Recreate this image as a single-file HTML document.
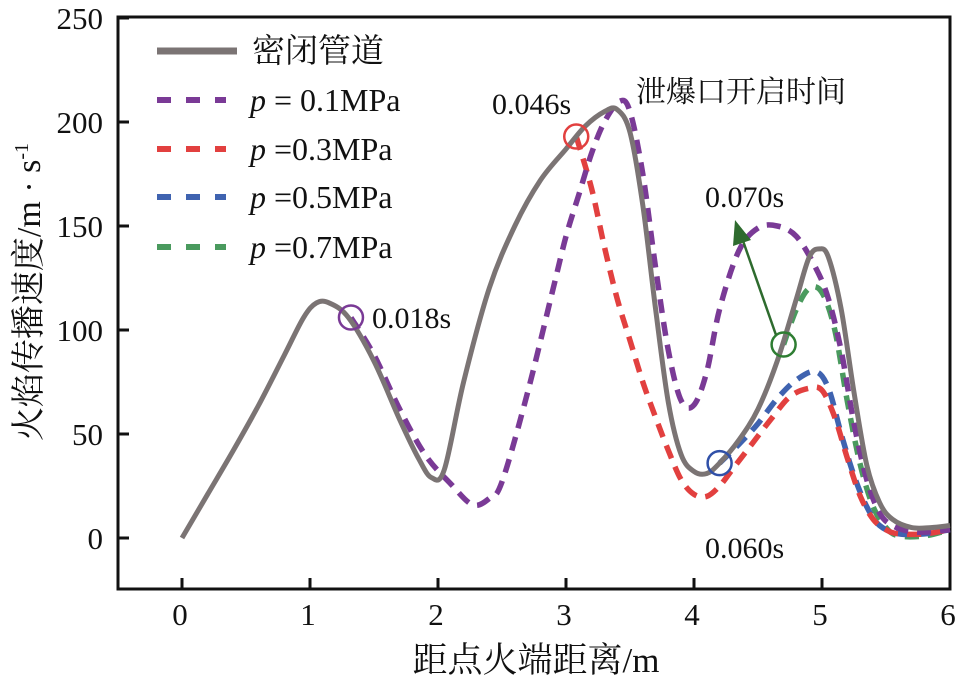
<!DOCTYPE html>
<html><head><meta charset="utf-8">
<style>
html,body{margin:0;padding:0;background:#fff;}
svg{display:block;font-family:"Liberation Serif","Noto Serif CJK SC",serif;}
</style></head>
<body>
<svg id="chart" width="963" height="686" viewBox="0 0 963 686" xmlns="http://www.w3.org/2000/svg">
<rect x="118" y="17" width="832" height="572" fill="none" stroke="#111" stroke-width="3"/>
<g id="axes"></g>
<g id="series"></g>
<g id="annot"></g>
<g id="legend"></g>
</svg>
<script>
const xTicks=[0,1,2,3,4,5,6];
const yTicks=[0,50,100,150,200,250];
const closedX=[0,0.2,0.4,0.6,0.8,0.95,1.05,1.15,1.3,1.5,1.7,1.85,1.95,2.05,2.2,2.4,2.6,2.8,3.0,3.15,3.3,3.4,3.5,3.6,3.7,3.8,3.9,4.0,4.1,4.2,4.35,4.5,4.65,4.8,4.9,4.98,5.05,5.15,5.25,5.35,5.45,5.55,5.7,5.85,6.0];
const closedY=[0,21,42,64,88,106,113,113,106,85,57,38,29,33,75,120,150,172,187,198,205,206,195,160,110,65,40,32,31,36,47,62,85,115,135,139,135,110,70,35,17,9,5,5,6];
const p1X=[1.32,1.5,1.7,1.9,2.1,2.27,2.4,2.5,2.7,2.9,3.0,3.1,3.2,3.3,3.42,3.5,3.6,3.7,3.8,3.9,4.0,4.1,4.2,4.35,4.5,4.65,4.8,4.95,5.05,5.15,5.25,5.35,5.45,5.55,5.7,5.85,6.0];
const p1Y=[106,88,62,40,26,16,19,27,70,120,145,165,185,200,210,205,175,130,90,66,64,80,110,138,149,150,145,130,115,90,55,28,12,6,3,3,4];
const p3X=[3.08,3.2,3.3,3.4,3.5,3.6,3.7,3.8,3.9,4.0,4.1,4.2,4.3,4.45,4.6,4.75,4.9,5.0,5.1,5.2,5.3,5.4,5.5,5.6,5.8,6.0];
const p3Y=[193,168,140,115,95,75,58,42,28,21,20,25,33,45,57,68,72,71,58,38,20,9,4,2,2,4];
const p5X=[4.2,4.35,4.5,4.65,4.8,4.95,5.05,5.15,5.25,5.35,5.45,5.6,5.8,6.0];
const p5Y=[36,45,55,67,76,80,72,50,30,15,6,2,2,4];
const p7X=[4.7,4.8,4.9,5.0,5.1,5.2,5.3,5.4,5.5,5.6,5.8,6.0];
const p7Y=[93,110,120,118,100,65,35,15,5,1,1,4];

const X0=182,XS=128,Y0=538,YS=104/50;
const sx=v=>X0+v*XS, sy=v=>Y0-v*YS;
const NS="http://www.w3.org/2000/svg";
function mk(tag,attrs,parent,text){const e=document.createElementNS(NS,tag);for(const k in attrs)e.setAttribute(k,attrs[k]);if(text!==undefined)e.textContent=text;parent.appendChild(e);return e;}
const axes=document.getElementById('axes');
xTicks.forEach(t=>{
  const l=mk('line',{x1:sx(t),x2:sx(t),y1:589,y2:578,stroke:'#111','stroke-width':3},axes);
  
  
  const tx=mk('text',{x:sx(t)-2,y:625,'font-size':31,'text-anchor':'middle',fill:'#111'},axes,String(t));
  
  
});
yTicks.forEach(t=>{
  const l=mk('line',{x1:118,x2:129,y1:sy(t),y2:sy(t),stroke:'#111','stroke-width':3},axes);
  
  
  const tx=mk('text',{x:103,y:sy(t)+11,'font-size':31,'text-anchor':'end',fill:'#111'},axes,String(t));
  
  
});
const xt=mk('text',{x:536,y:672,'font-size':35,'text-anchor':'middle',fill:'#111'},axes,'距点火端距离/m');


const yt=mk('text',{x:0,y:0,'font-size':34,'text-anchor':'middle',fill:'#111',transform:'translate(40,292) rotate(-90)'},axes);


yt.innerHTML='火焰传播速度/m · s<tspan dy="-12" font-size="20">-1</tspan>';

function pathD(xs,ys){
  const p=xs.map((x,i)=>[sx(x),sy(ys[i])]);
  let d='M'+p[0][0]+','+p[0][1];
  for(let i=0;i<p.length-1;i++){
    const p0=p[i-1]||p[i],p1=p[i],p2=p[i+1],p3=p[i+2]||p2;
    const c1=[p1[0]+(p2[0]-p0[0])/6,p1[1]+(p2[1]-p0[1])/6];
    const c2=[p2[0]-(p3[0]-p1[0])/6,p2[1]-(p3[1]-p1[1])/6];
    d+=` C${c1[0]},${c1[1]} ${c2[0]},${c2[1]} ${p2[0]},${p2[1]}`;
  }
  return d;
}
const ser=document.getElementById('series');
const dash='14 9';
const s7=mk('path',{d:pathD(p7X,p7Y),fill:'none',stroke:'#4a9a5e','stroke-width':5.5,'stroke-dasharray':dash},ser);


const s5=mk('path',{d:pathD(p5X,p5Y),fill:'none',stroke:'#3f63b0','stroke-width':5.5,'stroke-dasharray':dash},ser);


const s3=mk('path',{d:pathD(p3X,p3Y),fill:'none',stroke:'#e2403f','stroke-width':5.5,'stroke-dasharray':dash},ser);


const s1=mk('path',{d:pathD(p1X,p1Y),fill:'none',stroke:'#7a3a96','stroke-width':5.5,'stroke-dasharray':dash},ser);


const sc=mk('path',{d:pathD(closedX,closedY),fill:'none',stroke:'#7b7474','stroke-width':5},ser);



const an=document.getElementById('annot');
[[1.32,106,'#7a3a96'],[3.08,193,'#e2403f'],[4.2,36,'#3050a8'],[4.7,93,'#2e7d32']].forEach(c=>{
  const e=mk('circle',{cx:sx(c[0]),cy:sy(c[1]),r:12,fill:'none',stroke:c[2],'stroke-width':2.5},an);
  
  
});
const arr=mk('line',{x1:776,y1:335,x2:742,y2:238,stroke:'#2e6b2e','stroke-width':2.5},an);


const ah=mk('polygon',{points:'735,220 733,246 751,240',fill:'#2e6b2e'},an);


[['0.018s',372,318],['0.046s',492,104],['泄爆口开启时间',636,92],['0.070s',705,197],['0.060s',705,548]].forEach(a=>{
  const t=mk('text',{x:a[1],y:a[2]+10,'font-size':30,fill:'#111'},an,a[0]);
  
  
});

const lg=document.getElementById('legend');
const legNames=['密闭管道','p = 0.1MPa','p =0.3MPa','p =0.5MPa','p =0.7MPa'];
const legColors=['#7b7474','#7a3a96','#e2403f','#3f63b0','#4a9a5e'];
const legY=[51,100,149,197,247];
legNames.forEach((n,i)=>{
  const y=legY[i];
  const l=i===0?mk('line',{x1:157,x2:237,y1:y,y2:y,stroke:legColors[i],'stroke-width':7},lg)
               :mk('line',{x1:157,x2:226,y1:y,y2:y,stroke:legColors[i],'stroke-width':6,'stroke-dasharray':'14 15'},lg);
  
  
  const t=mk('text',{x:i===0?252:250,y:y+11,'font-size':i===0?33:32,fill:'#111'},lg);
  
  
  if(i===0)t.textContent=n;
  else t.innerHTML='<tspan font-style="italic">p</tspan>'+n.slice(1);
});
</script>
</body></html>
